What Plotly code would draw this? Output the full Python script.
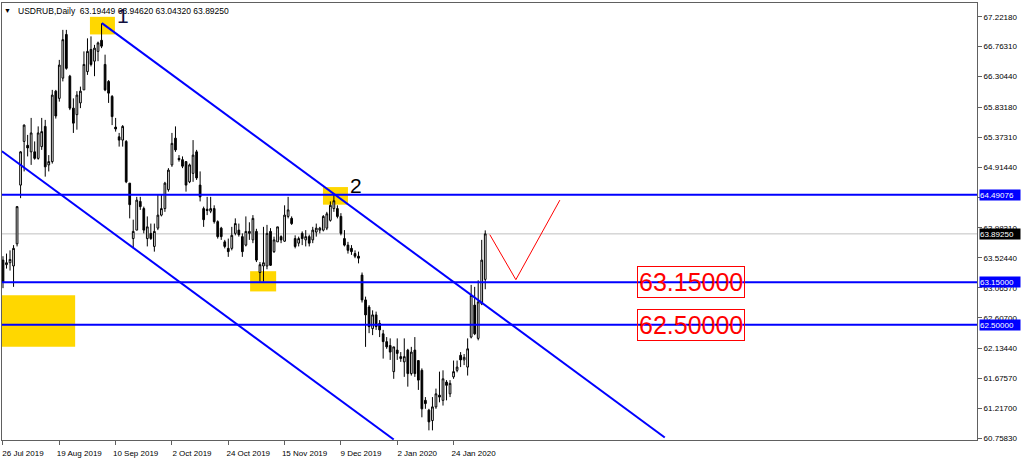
import plotly.graph_objects as go

# USDRUB daily candles, bar index 0 = 26 Jul 2019
opens = [
    63.49, 63.42, 63.45, 63.40, 63.74, 64.64, 65.31, 65.25, 65.15, 65.15,
    65.05, 65.23, 65.54, 64.95, 65.00, 66.08, 65.97, 66.28, 66.95, 66.31,
    65.82, 65.72, 65.90, 66.10, 66.38, 66.72, 66.54, 66.69, 66.86, 66.49,
    66.23, 66.00, 65.53, 65.38, 65.33, 65.31, 64.67, 63.82, 63.95, 64.39,
    64.28, 63.82, 63.90, 63.70, 63.98, 64.18, 64.28, 64.57, 64.95, 65.36,
    65.05, 65.03, 65.00, 64.69, 64.82, 65.15, 64.64, 64.28, 64.27, 64.24,
    64.28, 64.08, 63.98, 63.77, 63.67, 63.67, 63.90, 63.95, 63.85, 63.72,
    63.90, 63.80, 63.93, 63.30, 63.40, 63.40, 63.93, 63.62, 63.77, 63.85,
    63.78, 64.16, 64.13, 63.82, 63.75, 63.90, 63.80, 63.85, 63.80, 63.92,
    63.95, 63.95, 63.98, 64.10, 64.28, 64.28, 64.16, 63.82, 63.72, 63.67,
    63.59, 63.55, 63.26, 62.88, 62.77, 62.44, 62.65, 62.52, 62.36, 62.24,
    62.18, 61.78, 62.11, 62.01, 61.93, 62.11, 61.75, 62.11, 61.95, 61.80,
    61.34, 61.19, 61.03, 61.24, 61.42, 61.34, 61.62, 61.44, 61.70, 61.80,
    62.03, 61.96, 61.85, 62.31, 62.80, 62.29, 62.82, 63.19449,
]
highs = [
    63.55, 63.59, 63.64, 63.72, 64.32, 65.16, 65.57, 65.41, 65.67, 65.31,
    65.54, 65.67, 65.64, 65.10, 66.10, 66.10, 66.56, 67.02, 67.02, 66.33,
    65.97, 66.08, 66.15, 66.69, 66.89, 66.92, 66.79, 66.84, 67.12, 66.64,
    66.25, 66.02, 65.67, 65.44, 65.56, 65.33, 64.67, 64.11, 64.46, 64.46,
    64.31, 64.16, 64.05, 64.05, 64.49, 64.49, 64.69, 64.90, 65.44, 65.54,
    65.10, 65.08, 65.00, 64.97, 65.33, 65.18, 64.85, 64.31, 64.46, 64.46,
    64.33, 64.10, 64.00, 63.80, 63.82, 64.00, 64.13, 64.05, 63.90, 64.16,
    64.07, 64.18, 63.97, 63.46, 64.00, 64.03, 63.98, 63.85, 64.00, 63.87,
    64.33, 64.46, 64.16, 63.87, 63.85, 63.93, 63.95, 63.88, 64.00, 64.05,
    64.00, 64.18, 64.23, 64.39, 64.49, 64.33, 64.21, 63.95, 63.77, 63.72,
    63.64, 63.62, 63.30, 62.93, 62.80, 62.72, 62.70, 62.57, 62.42, 62.31,
    62.29, 62.16, 62.29, 62.08, 62.29, 62.13, 62.16, 62.31, 61.95, 61.83,
    61.39, 61.21, 61.39, 61.52, 61.78, 61.80, 61.65, 61.65, 61.95, 61.95,
    62.08, 62.05, 62.29, 63.11, 63.08, 63.18, 63.80, 63.94620,
]
lows = [
    63.06, 63.36, 63.33, 63.08, 63.70, 64.44, 64.85, 65.08, 64.95, 65.03,
    65.03, 65.18, 64.77, 64.85, 64.97, 65.66, 65.92, 66.23, 66.41, 65.79,
    65.44, 65.49, 65.82, 66.10, 66.33, 66.46, 66.31, 66.54, 66.74, 66.08,
    65.90, 65.56, 65.46, 65.23, 65.23, 64.67, 64.13, 63.67, 63.95, 64.26,
    63.90, 63.70, 63.80, 63.62, 63.95, 64.16, 64.23, 64.54, 64.92, 65.15,
    65.00, 64.90, 64.54, 64.67, 64.69, 64.72, 64.39, 64.00, 64.18, 64.21,
    64.05, 63.82, 63.80, 63.67, 63.54, 63.64, 63.87, 63.85, 63.54, 63.70,
    63.80, 63.75, 63.46, 63.16, 63.16, 63.35, 63.40, 63.60, 63.77, 63.75,
    63.77, 64.13, 64.03, 63.67, 63.70, 63.72, 63.70, 63.70, 63.75, 63.85,
    63.90, 63.93, 63.95, 64.08, 64.23, 64.13, 63.87, 63.70, 63.59, 63.57,
    63.52, 63.44, 62.84, 62.16, 62.37, 62.34, 62.42, 62.31, 61.98, 62.13,
    61.96, 61.67, 61.96, 61.93, 61.70, 61.55, 61.72, 61.70, 61.50, 61.08,
    61.21, 60.88, 60.88, 61.21, 61.31, 61.26, 61.34, 61.39, 61.67, 61.77,
    61.85, 61.88, 61.72, 62.29, 62.34, 62.26, 62.80, 63.04320,
]
closes = [
    63.15, 63.45, 63.50, 63.67, 64.31, 65.15, 65.56, 65.21, 65.44, 65.05,
    65.44, 65.46, 64.92, 65.00, 66.02, 65.70, 66.48, 66.87, 66.43, 65.82,
    65.59, 66.02, 66.08, 66.49, 66.69, 66.49, 66.74, 66.82, 66.77, 66.10,
    66.05, 65.69, 65.50, 65.33, 65.54, 64.69, 64.34, 63.93, 64.41, 64.31,
    63.95, 64.00, 63.82, 63.93, 64.18, 64.28, 64.67, 64.87, 65.28, 65.18,
    65.03, 64.93, 64.64, 64.95, 65.10, 64.75, 64.46, 64.11, 64.25, 64.28,
    64.08, 63.85, 63.85, 63.70, 63.62, 63.87, 64.05, 63.88, 63.62, 63.93,
    63.93, 64.13, 63.49, 63.42, 63.45, 63.90, 63.41, 63.80, 64.00, 63.80,
    64.18, 64.26, 64.05, 63.70, 63.82, 63.82, 63.85, 63.75, 63.95, 63.98,
    63.98, 64.16, 64.20, 64.33, 64.40, 64.16, 63.90, 63.72, 63.64, 63.62,
    63.55, 63.52, 62.88, 62.65, 62.47, 62.65, 62.47, 62.42, 62.24, 62.16,
    62.08, 62.16, 62.06, 61.98, 62.01, 61.75, 62.08, 61.75, 61.65, 61.21,
    61.29, 61.01, 61.24, 61.44, 61.39, 61.67, 61.57, 61.60, 61.78, 61.85,
    61.96, 62.00, 62.13, 62.95, 62.36, 62.85, 63.49, 63.89250,
]
bars = list(range(len(opens)))

tick_bars = [0, 16, 32, 48, 64, 80, 96, 112, 128]
tick_labels = ["26 Jul 2019", "19 Aug 2019", "10 Sep 2019", "2 Oct 2019", "24 Oct 2019",
               "15 Nov 2019", "9 Dec 2019", "2 Jan 2020", "24 Jan 2020"]
price_ticks = [67.2218, 66.7631, 66.3044, 65.8318, 65.3731, 64.9144, 64.4557, 63.9831,
               63.5244, 63.0657, 62.6070, 62.1344, 61.6757, 61.2170, 60.7583]
levels = [64.49076, 63.15, 62.50]
boxed_levels = [63.15, 62.50]
bid = closes[-1]

# trend channel (bar, price) end points
upper_trend = [(28.1, 67.124), (188.0, 60.77)]
lower_trend = [(-0.3, 65.16), (111.0, 60.74)]
red_path = [(138.3, 63.88), (145.7, 63.19), (158.2, 64.41)]
zones = [(24.7, 31.8, 66.95, 67.22), (-1.0, 20.5, 62.16, 62.95),
         (90.9, 98.0, 64.34, 64.61), (70.2, 77.6, 63.01, 63.32)]

BLUE = "#0000FF"
FONT = "Liberation Sans, Arial, sans-serif"

fig = go.Figure(
    go.Candlestick(
        x=bars, open=opens, high=highs, low=lows, close=closes,
        increasing=dict(line=dict(color="black", width=1), fillcolor="white"),
        decreasing=dict(line=dict(color="black", width=1), fillcolor="black"),
        whiskerwidth=0,
        showlegend=False,
    )
)

shapes = []
for x0, x1, y0, y1 in zones:
    shapes.append(dict(type="rect", xref="x", yref="y", x0=x0, x1=x1, y0=y0, y1=y1,
                       fillcolor="#FFD700", line=dict(width=0), layer="below"))
shapes.append(dict(type="line", xref="paper", yref="y", x0=0, x1=1, y0=bid, y1=bid,
                   line=dict(color="#C0C0C0", width=1), layer="below"))
for lvl in levels:
    shapes.append(dict(type="line", xref="paper", yref="y", x0=0, x1=1, y0=lvl, y1=lvl,
                       line=dict(color=BLUE, width=2)))
for (x0, y0), (x1, y1) in [upper_trend, lower_trend]:
    shapes.append(dict(type="line", xref="x", yref="y", x0=x0, y0=y0, x1=x1, y1=y1,
                       line=dict(color=BLUE, width=2)))
for (x0, y0), (x1, y1) in zip(red_path[:-1], red_path[1:]):
    shapes.append(dict(type="line", xref="x", yref="y", x0=x0, y0=y0, x1=x1, y1=y1,
                       line=dict(color="#FF0000", width=1)))

annotations = [
    dict(xref="paper", yref="paper", x=0.006, y=1, yshift=-2, xanchor="center", yanchor="top",
         text="▼", showarrow=False, font=dict(family=FONT, size=7, color="black")),
    dict(xref="paper", yref="paper", x=0.0144, y=1, yshift=-1, xanchor="left", yanchor="top",
         text="USDRUB,Daily  " + " ".join(f"{v:.5f}" for v in
                                           (opens[-1], highs[-1], lows[-1], closes[-1])),
         showarrow=False, font=dict(family=FONT, size=8.5, color="black")),
    dict(xref="x", yref="y", x=34.1, y=67.24, text="1", showarrow=False,
         font=dict(family=FONT, size=21, color="#101040")),
    dict(xref="x", yref="y", x=100.3, y=64.64, text="2", showarrow=False,
         font=dict(family=FONT, size=21, color="black")),
]
for lvl in boxed_levels:
    annotations.append(dict(xref="x", yref="y", x=195.5, y=lvl, text=f"{lvl:.5f}",
                            showarrow=False, bordercolor="#FF0000", borderwidth=1, borderpad=1,
                            font=dict(family=FONT, size=25, color="#FF0000")))
for lvl in levels:
    annotations.append(dict(xref="paper", yref="y", x=1, xshift=2, y=lvl, xanchor="left",
                            text=f"{lvl:.5f}", showarrow=False, bgcolor=BLUE, width=40, height=10,
                            align="left", borderpad=0,
                            font=dict(family=FONT, size=8, color="white")))
annotations.append(dict(xref="paper", yref="y", x=1, xshift=2, y=bid, xanchor="left",
                        text=f"{bid:.5f}", showarrow=False, bgcolor="black", width=40, height=10,
                        align="left", borderpad=0, font=dict(family=FONT, size=8, color="white")))

fig.update_layout(
    width=1024, height=460,
    margin=dict(l=2, r=47, t=3, b=20),
    paper_bgcolor="white",
    plot_bgcolor="white",
    font=dict(family=FONT, size=8, color="black"),
    shapes=shapes,
    annotations=annotations,
    showlegend=False,
    hovermode=False,
)
fig.update_xaxes(
    range=[-0.28, 276.7],
    rangeslider_visible=False,
    tickmode="array", tickvals=tick_bars, ticktext=tick_labels,
    ticks="outside", ticklen=4, tickcolor="#606060",
    ticklabelshift=20, ticklabelstandoff=1,
    showgrid=False, zeroline=False,
    showline=True, mirror=True, linecolor="#606060", linewidth=1,
    tickfont=dict(family=FONT, size=8, color="black"),
)
fig.update_yaxes(
    range=[60.732, 67.432],
    side="right",
    tickmode="array", tickvals=price_ticks, ticktext=[f"{v:.5f}" for v in price_ticks],
    ticks="outside", ticklen=4, tickcolor="#606060",
    showgrid=False, zeroline=False,
    showline=True, mirror=True, linecolor="#606060", linewidth=1,
    tickfont=dict(family=FONT, size=8, color="black"),
)

# the page body has a default 8px margin; drop it so the chart fills the window
fig.write_html("out.html", config={"displayModeBar": False},
               post_script="document.body.style.margin = '0px';")
